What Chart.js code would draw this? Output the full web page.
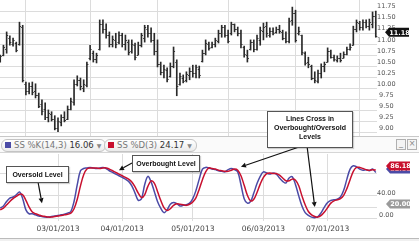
<!DOCTYPE html>
<html>
<head>
<meta charset="utf-8">
<script src="https://cdn.jsdelivr.net/npm/chart.js@4.4.0/dist/chart.umd.min.js"></script>
<style>
body{margin:0;width:419px;height:241px;position:relative;overflow:hidden;background:#fff;font-family:"DejaVu Sans",sans-serif}
#priceBox{position:absolute;left:0;top:0;width:419px;height:136px}
#stochBox{position:absolute;left:0;top:154px;width:419px;height:84px}
#legendBar{position:absolute;left:0;top:136px;width:419px;height:15px;border-top:1px solid #c8c8c8;border-bottom:1px solid #d6d6d6;background:#fafafa}
.pill{position:absolute;top:2px;height:11px;border:1px solid #c4c4c4;border-radius:6px;background:linear-gradient(#fff,#ebebeb);font-size:8.5px;line-height:11px;color:#777;white-space:nowrap;padding:0 4px 0 3px}
.sw{display:inline-block;width:6px;height:6px;margin-right:3px}
.val{color:#333}
.caret{font-size:6px;color:#888;margin-left:3px}
.btn{position:absolute;top:2px;width:8px;height:9px;border:1px solid #b0b0b0;background:#f4f4f4;font-size:8px;line-height:8px;text-align:center;color:#888}
.note{position:absolute;background:#fff;border:1px solid #555;font:bold 7px "Liberation Sans",Arial,sans-serif;color:#111;text-align:center;box-shadow:1px 1px 1px rgba(0,0,0,.18)}
#arrows{position:absolute;left:0;top:0}
#footer{position:absolute;left:0;top:238px;width:419px;height:3px;border-top:1px solid #bbb;background:#f0f0f0}
</style>
</head>
<body>
<div id="priceBox"><canvas id="priceChart"></canvas></div>
<div id="legendBar">
  <div class="pill" style="left:1px"><span class="sw" style="background:#4b4ba6"></span>SS %K(14,3) <span class="val">16.06</span><span class="caret">▼</span></div>
  <div class="pill" style="left:104px"><span class="sw" style="background:#c8102e"></span>SS %D(3) <span class="val">24.17</span><span class="caret">▼</span></div>
  <div class="btn" style="left:396px">_</div>
  <div class="btn" style="left:407px">×</div>
</div>
<div id="stochBox"><canvas id="stochChart"></canvas></div>
<div id="footer"></div>
<svg id="arrows" width="419" height="241"></svg>
<div class="note" style="left:6px;top:166px;width:61px;height:15px;line-height:15px">Oversold Level</div>
<div class="note" style="left:132px;top:155px;width:66px;height:15px;line-height:15px">Overbought Level</div>
<div class="note" style="left:267px;top:111px;width:84px;height:33px;padding-top:2px;line-height:9px">Lines Cross in<br>Overbought/Oversold<br>Levels</div>

<script>
// trading days shown (Feb 4 - Jul 23, 2013)
const feb = [4,5,6,7,8,11,12,13,14,15,19,20,21,22,25,26,27,28];
const mar = [1,4,5,6,7,8,11,12,13,14,15,18,19,20,21,22,25,26,27,28];
const apr = [1,2,3,4,5,8,9,10,11,12,15,16,17,18,19,22,23,24,25,26,29,30];
const may = [1,2,3,6,7,8,9,10,13,14,15,16,17,20,21,22,23,24,28,29,30,31];
const jun = [3,4,5,6,7,10,11,12,13,14,17,18,19,20,21,24,25,26,27,28];
const jul = [1,2,3,5,8,9,10,11,12,15,16,17,18,19,22,23];

const dates = [];
[[2, feb], [3, mar], [4, apr], [5, may], [6, jun], [7, jul]].forEach(([m, days]) => {
    days.forEach(d => dates.push(String(m).padStart(2, "0") + "/" + String(d).padStart(2, "0") + "/2013"));
});

const dateTicks = ["03/01/2013", "04/01/2013", "05/01/2013", "06/03/2013", "07/01/2013"];
const priceTicks = [9.00, 9.25, 9.50, 9.75, 10.00, 10.25, 10.50, 10.75, 11.00, 11.25, 11.50, 11.75];
const stochTicks = [0, 20, 40, 80];

const open = [
    10.62, 10.76, 10.90, 11.15, 11.00, 11.02, 11.00, 11.40, 10.10, 9.95,
    10.05, 9.95, 9.85, 9.65, 9.55, 9.35, 9.42, 9.32, 9.12, 9.25,
    9.35, 9.32, 9.55, 9.70, 10.10, 10.20, 10.02, 10.08, 10.70, 10.80,
    10.66, 10.90, 11.45, 11.35, 11.20, 11.00, 11.10, 11.05, 11.20, 11.00,
    11.05, 10.85, 10.98, 10.75, 10.98, 11.15, 11.35, 11.25, 11.10, 10.85,
    10.55, 10.38, 10.42, 10.28, 10.50, 10.60, 10.10, 10.25, 10.20, 10.30,
    10.40, 10.35, 10.45, 10.62, 10.80, 11.00, 10.95, 11.00, 11.08, 11.25,
    11.38, 11.20, 11.25, 11.45, 11.35, 11.25, 10.95, 10.75, 10.90, 11.05,
    10.90, 11.10, 11.30, 11.42, 11.22, 11.30, 11.28, 11.35, 11.28, 11.15,
    11.08, 11.55, 11.70, 11.25, 11.20, 10.80, 10.60, 10.50, 10.25, 10.18,
    10.35, 10.50, 10.60, 10.85, 10.72, 10.65, 10.70, 10.70, 10.78, 10.90,
    10.98, 11.35, 11.48, 11.38, 11.50, 11.42, 11.45, 11.65
];
const high = [
    10.76, 10.98, 11.28, 11.19, 11.14, 11.05, 11.50, 11.43, 10.15, 10.13,
    10.15, 10.11, 9.90, 9.75, 9.68, 9.52, 9.48, 9.39, 9.34, 9.41,
    9.48, 9.61, 9.79, 10.20, 10.29, 10.24, 10.20, 10.60, 10.98, 10.85,
    10.80, 11.55, 11.55, 11.46, 11.28, 11.19, 11.25, 11.28, 11.25, 11.21,
    11.10, 11.10, 11.03, 11.05, 11.25, 11.43, 11.43, 11.37, 11.25, 11.10,
    10.60, 10.53, 10.47, 10.58, 10.94, 10.65, 10.35, 10.31, 10.38, 10.47,
    10.53, 10.53, 10.51, 10.87, 11.10, 11.05, 11.05, 11.14, 11.32, 11.43,
    11.43, 11.32, 11.50, 11.46, 11.39, 11.32, 10.96, 10.87, 11.10, 11.10,
    11.21, 11.39, 11.48, 11.50, 11.37, 11.37, 11.39, 11.43, 11.32, 11.28,
    11.59, 11.84, 11.77, 11.39, 11.21, 10.83, 10.71, 10.53, 10.38, 10.42,
    10.56, 10.60, 10.92, 10.87, 10.76, 10.74, 10.80, 10.83, 10.94, 11.01,
    11.41, 11.55, 11.52, 11.55, 11.55, 11.57, 11.73, 11.75
];
const low = [
    10.60, 10.74, 10.80, 10.98, 10.96, 10.83, 10.98, 10.15, 9.86, 9.88,
    9.86, 9.79, 9.57, 9.41, 9.30, 9.25, 9.27, 9.07, 9.03, 9.16,
    9.25, 9.30, 9.52, 9.63, 10.06, 9.97, 9.93, 10.04, 10.65, 10.60,
    10.58, 10.87, 11.25, 11.14, 10.94, 10.94, 10.92, 11.01, 10.94, 10.87,
    10.76, 10.80, 10.65, 10.76, 10.94, 11.05, 11.16, 11.05, 10.76, 10.49,
    10.31, 10.24, 10.15, 10.26, 10.47, 9.84, 10.08, 10.13, 10.15, 10.20,
    10.26, 10.24, 10.24, 10.60, 10.76, 10.87, 10.92, 10.94, 11.03, 11.16,
    11.16, 11.03, 11.21, 11.28, 11.19, 10.92, 10.71, 10.60, 10.87, 10.83,
    10.87, 10.98, 11.10, 11.16, 11.16, 11.21, 11.25, 11.25, 11.10, 11.03,
    11.03, 11.43, 11.05, 11.21, 10.76, 10.53, 10.47, 10.20, 10.13, 10.13,
    10.24, 10.38, 10.60, 10.69, 10.62, 10.60, 10.60, 10.69, 10.76, 10.87,
    10.98, 11.28, 11.32, 11.32, 11.37, 11.32, 11.37, 11.16
];
const close = [
    10.74, 10.95, 11.20, 11.05, 11.10, 10.88, 11.42, 10.20, 9.95, 10.05,
    9.92, 9.85, 9.62, 9.50, 9.35, 9.45, 9.32, 9.12, 9.28, 9.35,
    9.30, 9.55, 9.72, 10.10, 10.20, 10.05, 10.10, 10.55, 10.90, 10.68,
    10.75, 11.45, 11.35, 11.20, 11.00, 11.12, 11.00, 11.20, 11.00, 11.10,
    10.82, 11.00, 10.72, 10.98, 11.20, 11.38, 11.25, 11.10, 10.85, 10.55,
    10.38, 10.45, 10.22, 10.50, 10.85, 10.05, 10.28, 10.18, 10.32, 10.40,
    10.35, 10.48, 10.30, 10.80, 11.02, 10.92, 11.00, 11.10, 11.25, 11.38,
    11.22, 11.08, 11.45, 11.35, 11.25, 11.00, 10.78, 10.70, 11.05, 10.90,
    11.15, 11.32, 11.40, 11.25, 11.30, 11.25, 11.35, 11.30, 11.15, 11.08,
    11.52, 11.70, 11.10, 11.30, 10.82, 10.58, 10.55, 10.25, 10.20, 10.35,
    10.50, 10.55, 10.85, 10.72, 10.68, 10.70, 10.65, 10.78, 10.90, 10.95,
    11.35, 11.50, 11.38, 11.50, 11.42, 11.50, 11.65, 11.18
];

// slow stochastic %K(14,3) and %D(3)
const pctK = [
    18, 22, 30, 36, 38, 42, 47, 35, 15, 8,
    8, 6, 4, 3, 2, 2, 3, 4, 5, 6,
    7, 9, 12, 30, 60, 85, 89, 90, 91, 90,
    89, 90, 91, 89, 85, 82, 79, 76, 73, 70,
    66, 58, 45, 32, 35, 60, 75, 65, 48, 30,
    18, 10, 15, 25, 28, 26, 22, 23, 24, 27,
    35, 50, 70, 88, 91, 90, 88, 87, 85, 84,
    83, 87, 89, 87, 83, 60, 35, 27, 30, 45,
    62, 75, 83, 81, 79, 81, 79, 72, 66, 63,
    72, 74, 60, 40, 22, 10, 5, 2, 1, 3,
    10, 20, 28, 32, 33, 34, 38, 50, 70, 88,
    94, 92, 88, 86, 87, 85, 88, 82
];
const pctD = [
    15, 18, 24, 30, 35, 39, 43, 42, 32, 20,
    11, 8, 6, 4, 3, 2, 2, 3, 4, 5,
    6, 7, 9, 17, 34, 58, 78, 88, 90, 90,
    90, 89, 90, 90, 88, 85, 82, 79, 76, 73,
    70, 65, 56, 45, 37, 42, 57, 67, 63, 48,
    32, 19, 14, 17, 23, 26, 25, 24, 23, 25,
    29, 37, 52, 69, 83, 90, 89, 88, 86, 85,
    84, 84, 86, 88, 86, 76, 59, 41, 31, 34,
    46, 61, 73, 80, 81, 80, 80, 77, 72, 67,
    67, 70, 68, 58, 40, 24, 12, 6, 3, 2,
    5, 11, 19, 27, 31, 33, 35, 41, 53, 69,
    84, 91, 91, 89, 87, 86, 87, 86.18
];

// callouts: where each arrow points (bar index, oscillator value)
const arrowTargets = [
    { from: [38, 182], idx: 13, val: 27 },
    { from: [132, 163], idx: 37, val: 86 },
    { from: [302, 146], idx: 75, val: 92 },
    { from: [307, 146], idx: 98, val: 20 }
];

const tickIdx = dateTicks.map(d => dates.indexOf(d));
const xMin = -0.07, xMax = 117.38;
const gridColor = "#dcdcdc";

function drawTag(ctx, x, y, text, bg) {
    ctx.save();
    ctx.fillStyle = bg;
    ctx.beginPath();
    ctx.moveTo(x, y);
    ctx.lineTo(x + 4, y - 4.5);
    ctx.lineTo(x + 24, y - 4.5);
    ctx.lineTo(x + 24, y + 4.5);
    ctx.lineTo(x + 4, y + 4.5);
    ctx.closePath();
    ctx.fill();
    ctx.fillStyle = "#fff";
    ctx.font = "bold 6.5px 'DejaVu Sans'";
    ctx.textAlign = "center";
    ctx.textBaseline = "middle";
    ctx.fillText(text, x + 14.5, y + 0.5);
    ctx.restore();
}

const ohlcTicks = {
    id: "ohlcTicks",
    afterDatasetsDraw(chart) {
        const { ctx, scales: { x, y } } = chart;
        ctx.save();
        ctx.strokeStyle = "#333";
        ctx.lineWidth = 1;
        ctx.beginPath();
        for (let i = 0; i < dates.length; i++) {
            const px = x.getPixelForValue(i);
            const yo = Math.round(y.getPixelForValue(open[i])) + 0.5;
            const yc = Math.round(y.getPixelForValue(close[i])) + 0.5;
            ctx.moveTo(px - 1.5, yo); ctx.lineTo(px, yo);
            ctx.moveTo(px, yc); ctx.lineTo(px + 1.5, yc);
        }
        ctx.stroke();
        ctx.restore();
    },
    afterDraw(chart) {
        const y = chart.scales.y;
        const last = close[close.length - 1];
        drawTag(chart.ctx, 385, y.getPixelForValue(last) - 4, last.toFixed(2), "#111");
    }
};

const stochExtras = {
    id: "stochExtras",
    afterDraw(chart) {
        const { ctx, scales: { x, y } } = chart;
        drawTag(ctx, 386, y.getPixelForValue(20) - 3, "20.00", "#9a9a9a");
        const k = pctK[pctK.length - 1], d = pctD[pctD.length - 1];
        const yd = y.getPixelForValue(d) - 4;
        // %K tag sits just under the %D tag, mostly covered by it
        drawTag(ctx, 386, yd + 3, k.toFixed(2), "#4b4ba6");
        drawTag(ctx, 386, yd, d.toFixed(2), "#c8102e");

        // callout arrows, tips placed with the chart's scales
        const top = chart.canvas.getBoundingClientRect().top;
        const svg = document.getElementById("arrows");
        let html = "";
        arrowTargets.forEach(a => {
            const tx = x.getPixelForValue(a.idx), ty = y.getPixelForValue(a.val) + top;
            const [fx, fy] = a.from;
            const len = Math.hypot(tx - fx, ty - fy);
            const ux = (tx - fx) / len, uy = (ty - fy) / len;
            const bx = tx - ux * 5, by = ty - uy * 5;
            html += `<line x1="${fx}" y1="${fy}" x2="${bx}" y2="${by}" stroke="#111" stroke-width="1.2"/>`;
            html += `<polygon points="${tx},${ty} ${bx - uy * 2.5},${by + ux * 2.5} ${bx + uy * 2.5},${by - ux * 2.5}" fill="#111"/>`;
        });
        svg.innerHTML = html;
    }
};

function xScale(showLabels) {
    return {
        type: "linear",
        min: xMin,
        max: xMax,
        offset: false,
        border: { display: false },
        grid: { color: gridColor, drawTicks: false },
        ticks: {
            display: showLabels,
            autoSkip: false,
            maxRotation: 0,
            padding: 4,
            color: "#444",
            font: { family: "DejaVu Sans", size: 7.5 },
            callback: v => dates[v]
        },
        afterBuildTicks: s => { s.ticks = tickIdx.map(v => ({ value: v })); },
        afterFit: s => { s.paddingLeft = 0; s.paddingRight = 0; if (showLabels) s.height = 17; }
    };
}

function yScale(min, max, ticks, fmt, offset) {
    return {
        position: "right",
        min: min,
        max: max,
        border: { display: false },
        grid: { color: gridColor, drawTicks: false },
        ticks: {
            color: "#555",
            padding: 0,
            crossAlign: "center",
            labelOffset: offset,
            font: { family: "DejaVu Sans", size: 6.5 },
            callback: fmt
        },
        afterBuildTicks: s => { s.ticks = ticks.map(v => ({ value: v })); },
        afterFit: s => { s.width = 42; s.paddingTop = 0; s.paddingBottom = 0; }
    };
}

const priceChart = new Chart(document.getElementById("priceChart"), {
    type: "bar",
    data: {
        datasets: [{
            data: dates.map((d, i) => ({ x: i, y: [low[i], high[i]] })),
            backgroundColor: "#2a2a2a",
            barThickness: 1,
            borderWidth: 0
        }]
    },
    options: {
        animation: false,
        responsive: true,
        maintainAspectRatio: false,
        layout: { padding: 0 },
        plugins: { legend: { display: false }, tooltip: { enabled: false } },
        scales: {
            x: xScale(false),
            y: yScale(8.932, 12.0, priceTicks, v => v.toFixed(2), -4.5)
        }
    },
    plugins: [ohlcTicks]
});

const stochChart = new Chart(document.getElementById("stochChart"), {
    type: "line",
    data: {
        datasets: [
            {
                label: "SS %K(14,3)",
                data: pctK.map((v, i) => ({ x: i, y: v })),
                borderColor: "#4b4ba6",
                borderWidth: 1.5,
                pointRadius: 0,
                tension: 0.35,
                order: 2
            },
            {
                label: "SS %D(3)",
                data: pctD.map((v, i) => ({ x: i, y: v })),
                borderColor: "#c8102e",
                borderWidth: 1.5,
                pointRadius: 0,
                tension: 0.35,
                order: 1
            }
        ]
    },
    options: {
        animation: false,
        responsive: true,
        maintainAspectRatio: false,
        layout: { padding: 0 },
        plugins: { legend: { display: false }, tooltip: { enabled: false } },
        scales: {
            x: xScale(true),
            y: yScale(-5, 115, stochTicks, v => (v === 0 || v === 40) ? v.toFixed(2) : "", -3)
        }
    },
    plugins: [stochExtras]
});
</script>
</body>
</html>
